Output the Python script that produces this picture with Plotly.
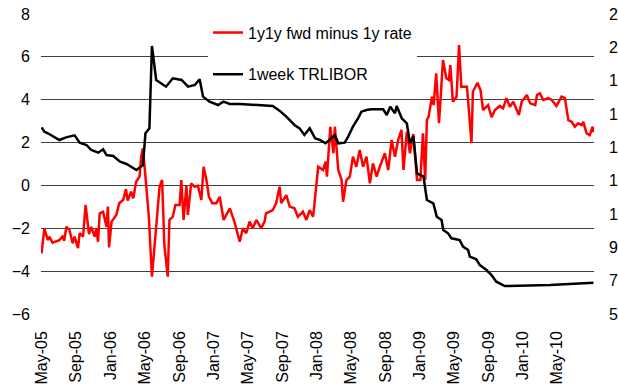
import plotly.graph_objects as go

# 1y1y forward minus 1y rate (left axis, %)
red_dates = [
    "2005-05-01", "2005-05-11", "2005-05-23", "2005-05-28", "2005-06-09", "2005-07-03", "2005-07-14",
    "2005-07-20", "2005-07-28", "2005-08-08", "2005-08-19", "2005-08-26", "2005-09-07", "2005-09-13",
    "2005-09-25", "2005-10-04", "2005-10-16", "2005-10-24", "2005-11-05", "2005-11-11", "2005-11-17",
    "2005-11-23", "2005-12-05", "2005-12-17", "2005-12-22", "2005-12-26", "2006-01-04", "2006-01-21",
    "2006-01-31", "2006-02-14", "2006-02-24", "2006-03-02", "2006-03-14", "2006-03-22", "2006-04-01",
    "2006-04-13", "2006-04-19", "2006-04-25", "2006-05-04", "2006-05-16", "2006-05-27", "2006-06-09",
    "2006-06-23", "2006-07-02", "2006-07-10", "2006-07-22", "2006-07-28", "2006-08-09", "2006-08-18",
    "2006-09-02", "2006-09-08", "2006-09-16", "2006-09-26", "2006-10-01", "2006-10-13", "2006-10-25",
    "2006-11-06", "2006-11-18", "2006-11-26", "2006-12-06", "2006-12-15", "2006-12-27", "2007-01-10",
    "2007-01-22", "2007-02-05", "2007-02-27", "2007-03-15", "2007-04-03", "2007-04-14", "2007-04-26",
    "2007-05-08", "2007-05-19", "2007-06-01", "2007-06-18", "2007-06-30", "2007-07-05", "2007-07-29",
    "2007-08-10", "2007-08-22", "2007-08-28", "2007-09-15", "2007-09-27", "2007-10-14", "2007-10-26",
    "2007-11-13", "2007-11-25", "2007-12-07", "2007-12-19", "2007-12-31", "2008-01-06", "2008-01-23",
    "2008-02-01", "2008-02-06", "2008-02-18", "2008-02-29", "2008-03-05", "2008-03-17", "2008-03-29",
    "2008-04-03", "2008-04-15", "2008-04-27", "2008-05-08", "2008-05-20", "2008-06-01", "2008-06-13",
    "2008-06-25", "2008-07-07", "2008-07-18", "2008-07-31", "2008-08-11", "2008-08-29", "2008-09-10",
    "2008-09-22", "2008-10-04", "2008-10-15", "2008-10-27", "2008-11-03", "2008-11-15", "2008-11-26",
    "2008-12-08", "2008-12-21", "2009-01-02", "2009-01-11", "2009-01-19", "2009-01-25", "2009-01-31",
    "2009-02-12", "2009-02-18", "2009-02-27", "2009-03-09", "2009-03-23", "2009-04-04", "2009-04-13",
    "2009-04-18", "2009-04-27", "2009-05-10", "2009-05-19", "2009-05-27", "2009-06-08", "2009-06-16",
    "2009-07-02", "2009-07-07", "2009-07-23", "2009-08-03", "2009-08-12", "2009-08-30", "2009-09-11",
    "2009-09-23", "2009-10-10", "2009-10-22", "2009-11-03", "2009-11-15", "2009-11-27", "2009-12-09",
    "2009-12-17", "2009-12-27", "2010-01-14", "2010-01-26", "2010-02-13", "2010-02-19", "2010-03-01",
    "2010-03-13", "2010-03-31", "2010-04-12", "2010-04-29", "2010-05-17", "2010-05-29", "2010-06-10",
    "2010-06-22", "2010-07-03", "2010-07-15", "2010-07-27", "2010-08-02", "2010-08-14", "2010-08-25",
    "2010-09-04", "2010-09-08",
]
red_vals = [
    -3.17, -2.00, -2.55, -2.39, -2.67, -2.55, -2.39,
    -2.58, -1.93, -2.08, -2.70, -2.39, -2.93, -2.23,
    -2.39, -0.91, -2.27, -1.93, -2.39, -2.00, -2.63,
    -1.30, -1.23, -1.93, -0.99, -2.89, -1.69, -1.38,
    -0.83, -0.68, -0.18, -0.71, -0.29, -0.60, 0.17,
    0.41, 1.34, 1.73, 0.41, -1.46, -4.26, -2.39,
    -0.06, 0.25, -2.78, -4.26, -1.61, -1.46, -0.91,
    -0.91, 0.25, -1.61, -0.02, -1.38, 0.10, -0.06,
    -0.02, -0.68, 0.87, 0.25, -0.53, -0.83, -0.83,
    -0.53, -1.61, -1.07, -1.69, -2.63, -2.00, -2.23,
    -1.69, -2.00, -1.61, -2.00, -1.69, -1.30, -1.15,
    -0.83, -0.06, -0.83, -0.45, -0.99, -1.07, -1.46,
    -1.23, -1.61, -1.15, -1.46, -0.06, 0.87, 0.72,
    1.11, 0.41, 2.74, 1.50, 2.74, 0.72, 0.25,
    -0.76, 0.25, 0.41, 1.34, 0.87, 1.65, 0.87,
    1.34, 0.10, 1.03, 0.41, 0.87, 1.50, 0.72,
    2.12, 1.34, 2.12, 2.59, 0.72, 2.51, 1.50,
    2.40, 0.25, 0.25, 2.43, 0.25, 3.05, 3.21,
    4.14, 3.75, 5.23, 2.90, 5.85, 5.00, 4.92,
    5.62, 3.91, 4.14, 6.55, 4.61, 4.61, 4.61,
    1.97, 4.37, 4.79, 4.45, 3.52, 3.75, 3.18,
    3.52, 3.71, 3.60, 4.07, 3.67, 3.91, 3.52,
    3.29, 3.91, 4.22, 3.83, 3.75, 4.22, 4.30,
    3.99, 4.07, 3.99, 3.71, 4.14, 4.07, 3.05,
    2.97, 2.74, 2.90, 2.82, 2.97, 2.43, 2.35,
    2.74, 2.48,
]

# 1-week TRLIBOR (right axis, %)
black_dates = [
    "2005-05-01", "2005-05-11", "2005-05-28", "2005-07-03", "2005-07-27", "2005-08-26", "2005-09-13",
    "2005-10-07", "2005-10-24", "2005-11-18", "2005-12-05", "2005-12-17", "2006-01-10", "2006-02-03",
    "2006-02-26", "2006-04-02", "2006-04-25", "2006-05-04", "2006-05-18", "2006-05-27", "2006-06-11",
    "2006-06-28", "2006-07-16", "2006-08-09", "2006-09-09", "2006-10-02", "2006-10-26", "2006-11-12",
    "2006-11-24", "2006-12-17", "2007-01-16", "2007-02-04", "2007-02-27", "2007-04-03", "2007-07-29",
    "2007-08-22", "2007-09-15", "2007-10-14", "2007-11-01", "2007-11-18", "2007-12-07", "2007-12-26",
    "2008-01-12", "2008-02-01", "2008-03-05", "2008-03-17", "2008-04-09", "2008-04-21", "2008-05-08",
    "2008-05-26", "2008-06-07", "2008-06-25", "2008-07-12", "2008-08-23", "2008-09-05", "2008-09-17",
    "2008-10-04", "2008-10-10", "2008-10-28", "2008-11-15", "2008-11-26", "2008-12-08", "2008-12-21",
    "2009-01-13", "2009-01-25", "2009-02-17", "2009-03-01", "2009-03-18", "2009-03-24", "2009-04-10",
    "2009-04-22", "2009-05-21", "2009-06-02", "2009-06-20", "2009-06-26", "2009-07-19", "2009-07-31",
    "2009-08-24", "2009-09-11", "2009-09-28", "2009-10-28", "2010-04-06", "2010-09-07",
]
black_vals = [
    16.20, 15.94, 15.80, 15.44, 15.60, 15.72, 15.28,
    15.14, 14.84, 14.68, 14.88, 14.54, 14.48, 14.14,
    14.00, 13.64, 13.94, 15.84, 16.14, 21.08, 19.04,
    18.84, 18.64, 19.14, 19.04, 18.64, 18.74, 19.08,
    18.04, 17.74, 17.54, 17.74, 17.60, 17.60, 17.48,
    17.20, 16.84, 16.34, 16.14, 15.74, 16.14, 15.54,
    15.44, 15.24, 15.74, 15.24, 15.28, 15.64, 16.24,
    16.74, 17.14, 17.24, 17.28, 17.28, 16.94, 17.44,
    17.04, 17.48, 16.74, 16.44, 15.24, 15.68, 13.44,
    13.24, 11.84, 11.64, 10.84, 10.64, 10.04, 9.84,
    9.54, 9.44, 9.04, 8.84, 8.44, 8.28, 7.94,
    7.64, 7.34, 6.94, 6.68, 6.74, 6.88,
]

x_ticks = ["2005-05-01", "2005-09-01", "2006-01-01", "2006-05-01", "2006-09-01", "2007-01-01",
           "2007-05-01", "2007-09-01", "2008-01-01", "2008-05-01", "2008-09-01", "2009-01-01",
           "2009-05-01", "2009-09-01", "2010-01-01", "2010-05-01"]
left_ticks = [-6, -4, -2, 0, 2, 4, 6, 8]
right_ticks = [5, 7, 9, 11, 13, 15, 17, 19, 21, 23]

FONT = "Liberation Sans, Arial, sans-serif"
TICKFONT = dict(family=FONT, size=16, color="#000000")

fig = go.Figure()
fig.add_trace(go.Scatter(
    x=red_dates, y=red_vals, mode="lines", name="1y1y fwd minus 1y rate",
    line=dict(color="#ff0000", width=2.5), legendgroup="a", yaxis="y",
))
fig.add_trace(go.Scatter(
    x=black_dates, y=black_vals, mode="lines", name="1week TRLIBOR",
    line=dict(color="#000000", width=2.5), legendgroup="b", yaxis="y2",
))

fig.update_layout(
    width=618, height=387,
    margin=dict(l=41, r=24, t=14, b=73, autoexpand=False),
    paper_bgcolor="white", plot_bgcolor="white",
    font=dict(family=FONT, size=16, color="#000000"),
    showlegend=True,
    legend=dict(
        x=0.302, y=0.995, xanchor="left", yanchor="top",
        bgcolor="white", borderwidth=0,
        font=dict(family=FONT, size=16, color="#000000"),
        tracegroupgap=18, itemwidth=30,
    ),
    xaxis=dict(
        type="date", automargin=False,
        range=["2005-04-29", "2010-09-09"],
        tickvals=x_ticks, tickformat="%b-%y",
        tickangle=-90, showgrid=False, zeroline=False, showline=False,
        ticks="", ticklabelstandoff=13,
        tickfont=TICKFONT,
    ),
    yaxis=dict(
        range=[-6, 8], tickvals=left_ticks, showgrid=True, automargin=False,
        gridcolor="#404040", gridwidth=1.3, zeroline=False, showline=False,
        ticks="", ticklabelstandoff=10,
        tickfont=TICKFONT,
    ),
    yaxis2=dict(
        range=[5, 23], tickvals=right_ticks, overlaying="y", side="right",
        showgrid=False, zeroline=False, showline=False, automargin=False,
        ticks="", ticklabelstandoff=14,
        tickfont=TICKFONT,
    ),
)

fig.write_html("out.html")
